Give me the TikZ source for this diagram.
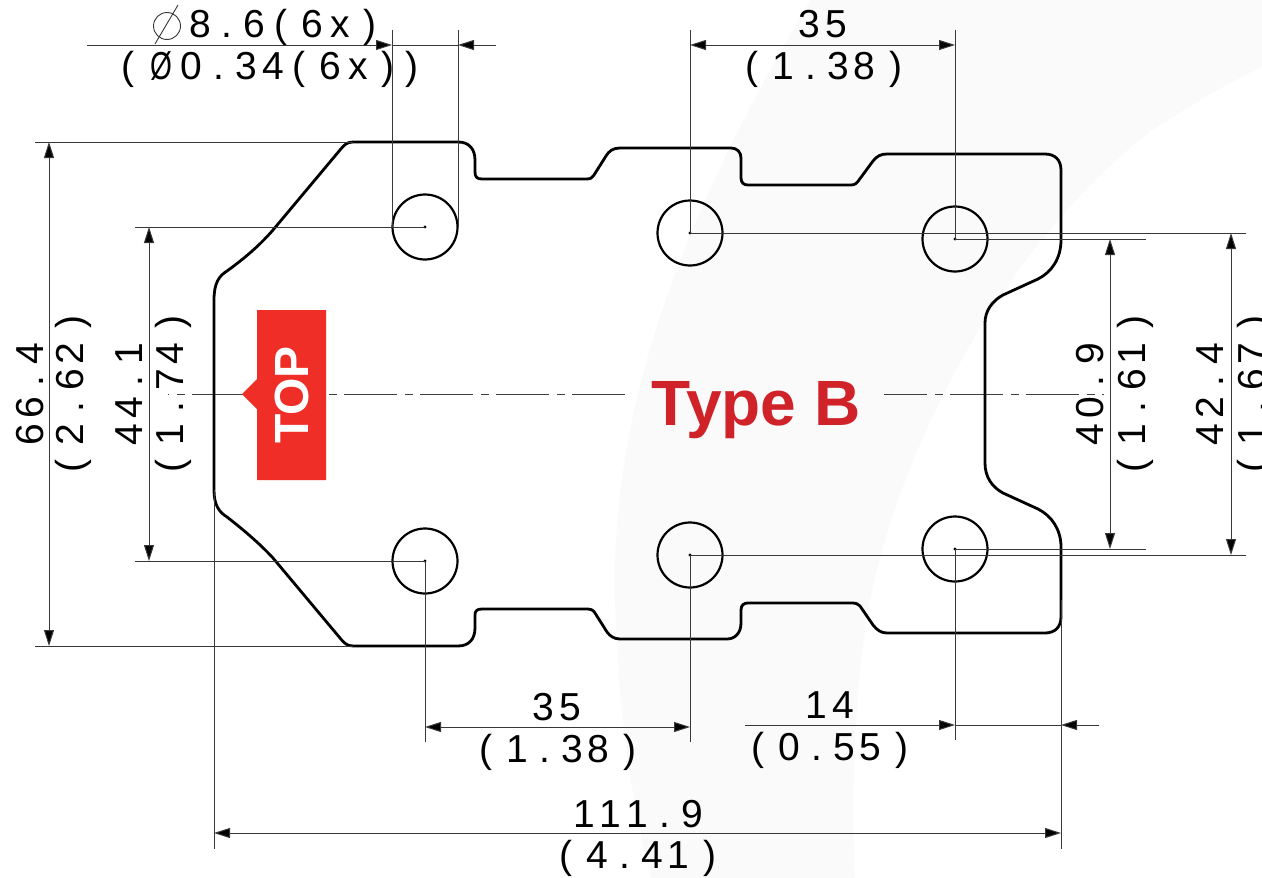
\documentclass[tikz,border=0pt]{standalone}
\usepackage{fontspec}
\setmainfont{Liberation Sans}
\newfontfamily\dimf[LetterSpace=13]{Liberation Sans}
\usetikzlibrary{arrows.meta}
\definecolor{swoosh}{HTML}{FAFAFA}
\definecolor{tabred}{HTML}{EF2E27}
\definecolor{typered}{HTML}{CF2229}
\newcommand\Dt{\hspace{11pt}.\hspace{11pt}}
\newcommand\Lp{(\hspace{14pt}}
\newcommand\Rp{\hspace{14pt})}
\newcommand\Ex{\hspace{9pt}(\hspace{14pt}}
\tikzset{
  thinln/.style={line width=1pt,draw=black!78},
  dimln/.style={thinln,{Triangle[length=16pt,width=10pt,fill=black]}-{Triangle[length=16pt,width=10pt,fill=black]}},
  endtip/.style={thinln,-{Triangle[length=16pt,width=10pt,fill=black]}},
  outline/.style={line width=2.8pt,draw=black,line join=round},
  holec/.style={circle,draw=black,line width=2.2pt,minimum size=65pt,inner sep=0pt},
  dimtxt/.style={inner sep=0pt,anchor=base,font=\fontsize{39}{39}\selectfont\dimf},
  vdimtxt/.style={dimtxt,rotate=90},
  cline/.style={line width=1pt,draw=black!75,dash pattern=on 53pt off 8pt on 8pt off 7pt,dash phase=52pt},
}
\begin{document}
\begin{tikzpicture}[x=1pt,y=-1pt]
\useasboundingbox (0,0) rectangle (1262,878);
\fill[white] (0,0) rectangle (1262,878);
% background swoosh
\fill[swoosh] (811,0) .. controls (690,200) and (610,400) .. (615,600)
  .. controls (618,700) and (630,800) .. (651,878) -- (855,878)
  .. controls (850,760) and (858,665) .. (870,600)
  .. controls (900,450) and (1000,250) .. (1148,133)
  .. controls (1190,105) and (1230,82) .. (1262,67) -- (1262,0) -- cycle;
% centre line
\coordinate (cl1) at (168,394); \coordinate (cl2) at (625,394);
\coordinate (cl3) at (884,394); \coordinate (cl4) at (1104,394);
\draw[cline] (cl1) -- (cl2);
\draw[cline,dash phase=10pt] (cl3) -- (cl4);
% holes
\node[holec] (h1) at (425,227) {};
\node[holec] (h2) at (690,233) {};
\node[holec] (h3) at (955,239) {};
\node[holec] (h4) at (425,561) {};
\node[holec] (h5) at (690,555) {};
\node[holec] (h6) at (955,549) {};
\foreach \h in {h1,h2,h3,h4,h5,h6} \fill (\h.center) circle (1.6);
% outline
\draw[outline] (214,300) .. controls (214,283) and (219,276) .. (227,271)
  .. controls (245,258) and (260,245) .. (273,230) -- (340,150)
  .. controls (344,145) and (347,142) .. (353,142) -- (458,142)
  .. controls (469,142) and (475,149) .. (475,160) -- (475,172)
  .. controls (475,177) and (477,179) .. (482,179) -- (586,179)
  .. controls (591,179) and (592,178) .. (594,175) -- (606,156)
  .. controls (609,151) and (613,148) .. (620,148) -- (731,148)
  .. controls (737,148) and (741,152) .. (741,158) -- (741,178)
  .. controls (741,183) and (744,185) .. (748,185) -- (851,185)
  .. controls (855,185) and (857,183) .. (859,180) -- (873,161)
  .. controls (877,156) and (881,154) .. (887,154) -- (1045,154)
  .. controls (1055,154) and (1061,160) .. (1061,170) -- (1061,240)
  .. controls (1061,258) and (1052,272) .. (1038,279) -- (1003,295)
  .. controls (992,301) and (985,311) .. (985,323) -- (985,463)
  .. controls (985,477) and (992,487) .. (1003,493) -- (1038,509)
  .. controls (1052,516) and (1061,530) .. (1061,547) -- (1061,617)
  .. controls (1061,627) and (1055,633) .. (1045,633) -- (887,633)
  .. controls (881,633) and (877,630) .. (873,625) -- (860,606)
  .. controls (858,604) and (856,603) .. (852,603) -- (748,603)
  .. controls (744,603) and (741,605) .. (741,610) -- (741,623)
  .. controls (741,633) and (735,639) .. (727,639) -- (620,639)
  .. controls (614,639) and (610,636) .. (607,632) -- (595,613)
  .. controls (593,610) and (591,609) .. (587,609) -- (482,609)
  .. controls (477,609) and (475,611) .. (475,615) -- (475,628)
  .. controls (475,639) and (469,646) .. (458,646) -- (353,646)
  .. controls (347,646) and (344,643) .. (340,638) -- (273,558)
  .. controls (260,544) and (245,531) .. (227,517)
  .. controls (219,512) and (214,505) .. (214,490) -- cycle;
% named ends
\coordinate (tA) at (392,30); \coordinate (tB) at (458,30);
\coordinate (tC) at (690,30); \coordinate (tD) at (955,30);
\coordinate (aA) at (392,45); \coordinate (aB) at (458,45);
\coordinate (aC) at (690,45); \coordinate (aD) at (955,45);
\coordinate (aL) at (87,45);  \coordinate (aR) at (496,45);
\coordinate (lA) at (35,142); \coordinate (lB) at (353,142);
\coordinate (lC) at (35,646); \coordinate (lD) at (353,646);
\coordinate (lE) at (135,227); \coordinate (lF) at (135,561);
\coordinate (vA) at (49,142); \coordinate (vB) at (49,646);
\coordinate (vC) at (149,227); \coordinate (vD) at (149,561);
\coordinate (rA) at (1246,233); \coordinate (rB) at (1146,239);
\coordinate (rC) at (1146,549); \coordinate (rD) at (1246,555);
\coordinate (vE) at (1110,239); \coordinate (vF) at (1110,549);
\coordinate (vG) at (1231,233); \coordinate (vH) at (1231,555);
\coordinate (bA) at (425,742); \coordinate (bB) at (690,742); \coordinate (bC) at (955,740);
\coordinate (bD) at (214,849); \coordinate (bE) at (214,490);
\coordinate (bF) at (1061,849); \coordinate (bG) at (1061,600);
\coordinate (dA) at (425,727); \coordinate (dB) at (690,727);
\coordinate (dC) at (745,725); \coordinate (dD) at (955,725);
\coordinate (dE) at (1061,725); \coordinate (dF) at (1099,725);
\coordinate (dG) at (214,833); \coordinate (dH) at (1061,833);
% extension lines
\draw[thinln] (tA) -- (392,227);
\draw[thinln] (tB) -- (458,227);
\draw[thinln] (tC) -- (h2.center);
\draw[thinln] (tD) -- (h3.center);
\draw[thinln] (lA) -- (lB);
\draw[thinln] (lC) -- (lD);
\draw[thinln] (lE) -- (h1.center);
\draw[thinln] (lF) -- (h4.center);
\draw[thinln] (h2.center) -- (rA);
\draw[thinln] (h3.center) -- (rB);
\draw[thinln] (h6.center) -- (rC);
\draw[thinln] (h5.center) -- (rD);
\draw[thinln] (h4.center) -- (bA);
\draw[thinln] (h5.center) -- (bB);
\draw[thinln] (h6.center) -- (bC);
\draw[thinln] (bE) -- (bD);
\draw[thinln] (bG) -- (bF);
% dimension lines
\draw[endtip] (aL) -- (aA);
\draw[thinln] (aA) -- (aB);
\draw[endtip] (aR) -- (aB);
\draw[dimln] (aC) -- (aD);
\draw[dimln] (vA) -- (vB);
\draw[dimln] (vC) -- (vD);
\draw[dimln] (vE) -- (vF);
\draw[dimln] (vG) -- (vH);
\draw[dimln] (dA) -- (dB);
\draw[endtip] (dC) -- (dD);
\draw[thinln] (dD) -- (dE);
\draw[endtip] (dF) -- (dE);
\draw[dimln] (dG) -- (dH);
% diameter symbol
\draw[line width=0.9pt,draw=black!78] (167,26) circle (13.5);
\draw[line width=0.9pt,draw=black!78] (155,44) -- (178,5);
% texts
\node[dimtxt] (t1) at (283,37) {8\Dt 6\Ex 6\hspace{7pt}x\Rp};
\node[dimtxt] (t2) at (270,79) {\Lp\hspace{2pt}\scalebox{0.72}[1]{Ø}\hspace{9pt}0\Dt 34\Ex 6\hspace{7pt}x\Rp\hspace{11pt})};
\node[dimtxt] (t3) at (823,37) {35};
\node[dimtxt] (t4) at (824,79) {\Lp 1\Dt 38\Rp};
\node[dimtxt] (t5) at (557,720) {35};
\node[dimtxt] (t6) at (558,762) {\Lp 1\Dt 38\Rp};
\node[dimtxt] (t7) at (830,718) {14};
\node[dimtxt] (t8) at (830,760) {\Lp 0\Dt 55\Rp};
\node[dimtxt] (t9) at (638,827) {1\hspace{5pt}1\hspace{5pt}1\Dt 9};
\node[dimtxt] (t10) at (638,868) {\Lp 4\Dt 41\Rp};
\node[vdimtxt] (t11) at (43,394) {66\Dt 4};
\node[vdimtxt] (t12) at (83,394) {\Lp 2\Dt 62\Rp};
\node[vdimtxt] (t13) at (142,394) {44\Dt 1};
\node[vdimtxt] (t14) at (183,394) {\Lp 1\Dt 74\Rp};
\node[vdimtxt] (t15) at (1103,394) {40\Dt 9};
\node[vdimtxt] (t16) at (1145,394) {\Lp 1\Dt 61\Rp};
\node[vdimtxt] (t17) at (1223,394) {42\Dt 4};
\node[vdimtxt] (t18) at (1265,394) {\Lp 1\Dt 67\Rp};
% TOP tab
\fill[tabred] (257,310) -- (326,310) -- (326,480) -- (257,480) -- (257,409) -- (242,394) -- (257,379) -- cycle;
\node[inner sep=0pt,anchor=base,rotate=90,text=white,font=\fontsize{48}{48}\selectfont\bfseries] (top) at (308,395) {TOP};
\node[inner sep=0pt,anchor=base,text=typered,font=\fontsize{64}{64}\selectfont\bfseries] (typeb) at (756,425) {Type B};
\end{tikzpicture}
\end{document}
